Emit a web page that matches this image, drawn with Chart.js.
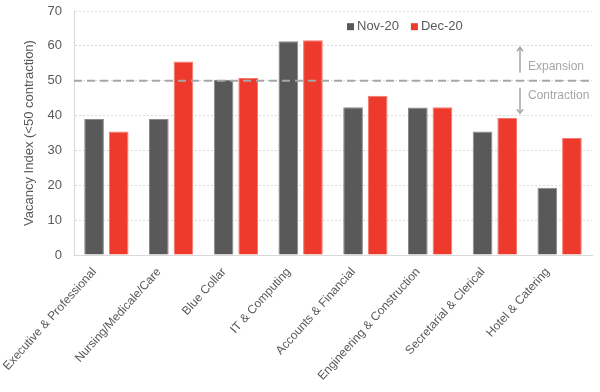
<!DOCTYPE html>
<html>
<head>
<meta charset="utf-8">
<script src="https://cdn.jsdelivr.net/npm/chart.js@4.4.1/dist/chart.umd.min.js"></script>
<style>
  html, body { margin: 0; padding: 0; background: #fff; }
  #wrap { width: 600px; height: 392px; }
</style>
</head>
<body>
<div id="wrap"><canvas id="vacancyChart"></canvas></div>
<script>
Chart.defaults.font.family = "'Liberation Sans', Arial, sans-serif";
Chart.defaults.color = '#595959';

const categories = [
  'Executive & Professional', 'Nursing/Medicale/Care', 'Blue Collar', 'IT & Computing',
  'Accounts & Financial', 'Engineering & Construction', 'Secretarial & Clerical', 'Hotel & Catering'
];
const nov20 = [39.0, 39.0, 50.3, 61.3, 42.4, 42.3, 35.4, 19.3];
const dec20 = [35.4, 55.5, 50.8, 61.6, 45.7, 42.4, 39.3, 33.6];
const yTicks = [0, 10, 20, 30, 40, 50, 60, 70];
const threshold = 50;

const COLORS = {
  nov: '#595959',
  novEdge: '#8a8a8a',
  dec: '#ee3a2d',
  decEdge: '#f4786e',
  grid: '#d9d9d9',
  note: '#a6a6a6'
};

// dashed 50 line, expansion/contraction arrows, in-plot legend
const overlay = {
  id: 'overlay',
  afterDatasetsDraw(chart) {
    const { ctx, chartArea, scales: { y } } = chart;
    const y50 = y.getPixelForValue(threshold);
    ctx.save();
    ctx.strokeStyle = COLORS.note;
    ctx.lineWidth = 2;
    ctx.setLineDash([8, 5]);
    ctx.beginPath();
    ctx.moveTo(chartArea.left, y50);
    ctx.lineTo(chartArea.right, y50);
    ctx.stroke();
    ctx.setLineDash([]);

    const ax = chartArea.right - 72;
    const arrow = (from, to) => {
      const y1 = y.getPixelForValue(from), y2 = y.getPixelForValue(to);
      const dir = y2 < y1 ? 1 : -1;
      ctx.lineWidth = 1.5;
      ctx.beginPath();
      ctx.moveTo(ax, y1);
      ctx.lineTo(ax, y2);
      ctx.stroke();
      ctx.beginPath();
      ctx.moveTo(ax - 3, y2 + dir * 4);
      ctx.lineTo(ax, y2);
      ctx.lineTo(ax + 3, y2 + dir * 4);
      ctx.stroke();
    };
    arrow(52.3, 59.6);
    arrow(48.0, 40.7);

    ctx.fillStyle = COLORS.note;
    ctx.font = "12px 'Liberation Sans', Arial, sans-serif";
    ctx.textBaseline = 'middle';
    ctx.textAlign = 'left';
    ctx.fillText('Expansion', ax + 8, y.getPixelForValue(54.0));
    ctx.fillText('Contraction', ax + 8, y.getPixelForValue(45.8));

    // legend
    ctx.font = "13px 'Liberation Sans', Arial, sans-serif";
    let lx = 347;
    const ly = y.getPixelForValue(65.5);
    chart.data.datasets.forEach(ds => {
      ctx.fillStyle = ds.backgroundColor;
      ctx.fillRect(lx, ly - 3.5, 7, 7);
      ctx.fillStyle = '#595959';
      ctx.fillText(ds.label, lx + 10, ly);
      lx += 10 + ctx.measureText(ds.label).width + 12;
    });
    ctx.restore();
  }
};

new Chart(document.getElementById('vacancyChart'), {
  type: 'bar',
  data: {
    labels: categories,
    datasets: [
      { label: 'Nov-20', data: nov20, backgroundColor: COLORS.nov, borderColor: COLORS.novEdge, borderWidth: 1, categoryPercentage: 0.76, barPercentage: 0.8 },
      { label: 'Dec-20', data: dec20, backgroundColor: COLORS.dec, borderColor: COLORS.decEdge, borderWidth: 1, categoryPercentage: 0.76, barPercentage: 0.8 }
    ]
  },
  options: {
    responsive: true,
    maintainAspectRatio: false,
    animation: false,
    layout: { padding: { top: 0, right: 8, left: 12, bottom: 9 } },
    scales: {
      x: {
        grid: { display: false, drawTicks: false },
        border: { color: COLORS.grid },
        afterFit: scale => { scale.paddingLeft = 0; scale.paddingRight = 0; scale.height = 128; },
        ticks: { maxRotation: 48, minRotation: 48, font: { size: 12 }, color: '#595959', padding: 10, labelOffset: -12 }
      },
      y: {
        min: 0,
        max: 70,
        afterBuildTicks: axis => { axis.ticks = yTicks.map(v => ({ value: v })); },
        afterFit: scale => { scale.width = 62; scale.paddingTop = 11; scale.paddingBottom = 0; },
        grid: { color: COLORS.grid, drawTicks: false },
        border: { color: COLORS.grid, dash: [2, 2] },
        ticks: { font: { size: 13 }, color: '#595959', padding: 12 },
        title: { display: true, text: 'Vacancy Index (<50 contraction)', font: { size: 13 }, color: '#595959', padding: 10 }
      }
    },
    plugins: {
      legend: { display: false },
      tooltip: { enabled: false }
    }
  },
  plugins: [overlay]
});
</script>
</body>
</html>
